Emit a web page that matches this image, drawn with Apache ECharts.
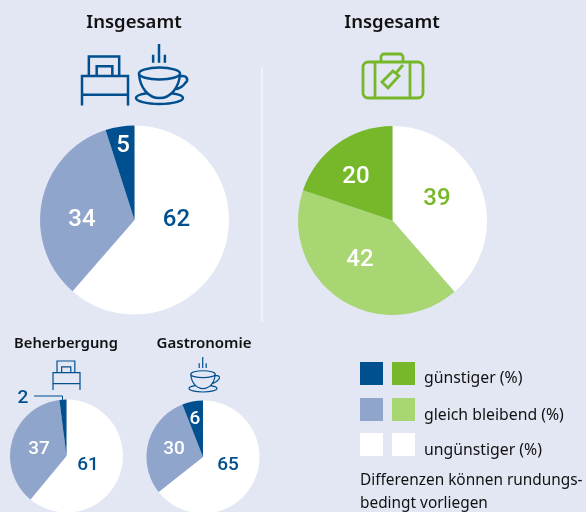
<!DOCTYPE html>
<html><head><meta charset="utf-8">
<style>html,body{margin:0;padding:0;background:#e3e7f4}#c{width:586px;height:512px}</style>
<script src="https://cdn.jsdelivr.net/npm/echarts@6/dist/echarts.min.js"></script>
</head><body><div id="c"></div>
<script>
const categories = ['ungünstiger (%)', 'gleich bleibend (%)', 'günstiger (%)'];
const hotelTotal = [62, 34, 5];
const travelTotal = [39, 42, 20];
const lodging = [61, 37, 2];
const gastronomy = [65, 30, 6];
const noteLines = ['Differenzen können rundungs-', 'bedingt vorliegen'];

const BLUE = '#004f8e', BLUE2 = '#8fa5cc', GREEN = '#76b82a', GREEN2 = '#a8d672', WHITE = '#ffffff', BG = '#e3e7f4';
const FONT = '"Noto Sans", "Open Sans", sans-serif';
const NUM = 'Roboto, "Noto Sans", sans-serif';

const bedPath = 'M0 50 V20 H47 V50 M0 39 H47 M7 20 V0 H38 V20 M15 20 V10 H31 V20';
const cupPath = 'M3 30 A21 6 0 1 1 45 30 A21 6 0 1 1 3 30 M3 30 C4 45 13 55 24 55 C35 55 44 45 45 30 M44 33 C53 31 54 37 50 40 C48 43 44 45 41 46 M11 50 C4 51 0 53 0 55 C0 58 10 61 24 61 C38 61 48 58 48 55 C48 53 44 51 36 50 M23.5 0 V19 M17.5 11 V19 M29.5 11 V19';
const casePath = 'M6 8 H56 A5 5 0 0 1 61 13 V39 A5 5 0 0 1 56 44 H6 A5 5 0 0 1 1 39 V13 A5 5 0 0 1 6 8 Z M13 8 V44 M48 8 V44 M19 8 V3 A3 3 0 0 1 22 0 H38 A3 3 0 0 1 41 3 V8 M41 11 L34 19 M31 17 L37 22 L26 34 L20 28 Z';

echarts.graphic.registerShape('bedIcon', echarts.graphic.extendPath(bedPath, {}));
echarts.graphic.registerShape('cupIcon', echarts.graphic.extendPath(cupPath, {}));
echarts.graphic.registerShape('caseIcon', echarts.graphic.extendPath(casePath, {}));

function icon(type, x, y, sx, sy, color, lw) {
  return { type: type, z: 5, x: x, y: y, scaleX: sx, scaleY: sy,
    style: { fill: null, stroke: color, lineWidth: lw / ((sx + sy) / 2) } };
}
function txt(s, x, y, size) {
  return { type: 'text', z: 6, x: x, y: y, style: { text: s, fill: '#111', font: size + 'px ' + FONT, verticalAlign: 'middle' } };
}
function sq(x, y, c) { return { type: 'rect', z: 4, shape: { x: x, y: y, width: 23, height: 23 }, style: { fill: c } }; }

function pie(values, center, r, colors, labelColors, labelPos, size) {
  return {
    type: 'pie', center: center, radius: [0, r], startAngle: 90, clockwise: true, silent: true, animation: false,
    label: { show: true, position: 'inside', formatter: '{c}', fontFamily: NUM, fontWeight: 500, fontSize: size },
    labelLine: { show: false },
    itemStyle: { borderWidth: 0 },
    labelLayout: function (p) { const q = labelPos[p.dataIndex]; return q ? { x: q[0], y: q[1], align: 'center', verticalAlign: 'middle' } : {}; },
    data: values.map(function (v, i) {
      return { name: categories[i], value: v, itemStyle: { color: colors[i] }, label: { color: labelColors[i] } };
    })
  };
}

const option = {
  backgroundColor: BG,
  animation: false,
  title: [
    { text: 'Insgesamt', left: 129, top: 8, textAlign: 'center', textStyle: { fontFamily: FONT, fontSize: 18.5, fontWeight: 600, color: '#111' } },
    { text: 'Insgesamt', left: 387, top: 8, textAlign: 'center', textStyle: { fontFamily: FONT, fontSize: 18.5, fontWeight: 600, color: '#111' } },
    { text: 'Beherbergung', left: 61, top: 331, textAlign: 'center', textStyle: { fontFamily: FONT, fontSize: 14.7, fontWeight: 600, color: '#111' } },
    { text: 'Gastronomie', left: 199, top: 331, textAlign: 'center', textStyle: { fontFamily: FONT, fontSize: 15, fontWeight: 600, color: '#111' } }
  ],
  series: [
    pie(hotelTotal, [134.5, 220], 94.5, [WHITE, BLUE2, BLUE], [BLUE, WHITE, WHITE], [[176.5, 219.5], [82, 219.5], [123, 146]], 24),
    pie(travelTotal, [392.5, 220.5], 94.5, [WHITE, GREEN2, GREEN], [GREEN, WHITE, WHITE], [[437, 198.5], [360, 260], [356, 177]], 24),
    pie(lodging, [66.5, 456], 56.5, [WHITE, BLUE2, BLUE], [BLUE, WHITE, BLUE], [[88, 465], [39, 449], [23, 398]], 19),
    pie(gastronomy, [203, 457], 56.5, [WHITE, BLUE2, BLUE], [BLUE, WHITE, WHITE], [[228, 465], [174, 449], [195, 419]], 19)
  ],
  graphic: [
    { type: 'line', z: 3, shape: { x1: 262, y1: 67, x2: 262, y2: 322 }, style: { stroke: '#f4f6fb', lineWidth: 1.5 } },
    icon('bedIcon', 82, 56.5, 46 / 47, 49 / 50, BLUE, 2.5),
    icon('cupIcon', 136, 44, 47 / 48, 60 / 61, BLUE, 2.5),
    icon('caseIcon', 362, 54, 1, 1, GREEN, 2.8),
    icon('bedIcon', 53, 361, 27 / 47, 29 / 50, BLUE, 1.2),
    icon('cupIcon', 189, 357, 28 / 48, 35 / 61, BLUE, 1.2),
    { type: 'polyline', z: 5, shape: { points: [[34, 396], [62.5, 396], [62.5, 400]] }, style: { fill: null, stroke: BLUE, lineWidth: 1 } },
    sq(360, 362, BLUE), sq(392, 362, GREEN),
    sq(360, 398, BLUE2), sq(392, 398, GREEN2),
    sq(360, 433, WHITE), sq(392, 433, WHITE),
    txt(categories[2], 424, 378.5, 15.8),
    txt(categories[1], 424, 415.5, 15.8),
    txt(categories[0], 424, 450.5, 15.8),
    txt(noteLines[0], 360, 481, 15.4),
    txt(noteLines[1], 360, 504, 15.4)
  ]
};
const chart = echarts.init(document.getElementById('c'), null, { renderer: 'canvas', width: 586, height: 512 });
chart.setOption(option);
</script></body></html>
